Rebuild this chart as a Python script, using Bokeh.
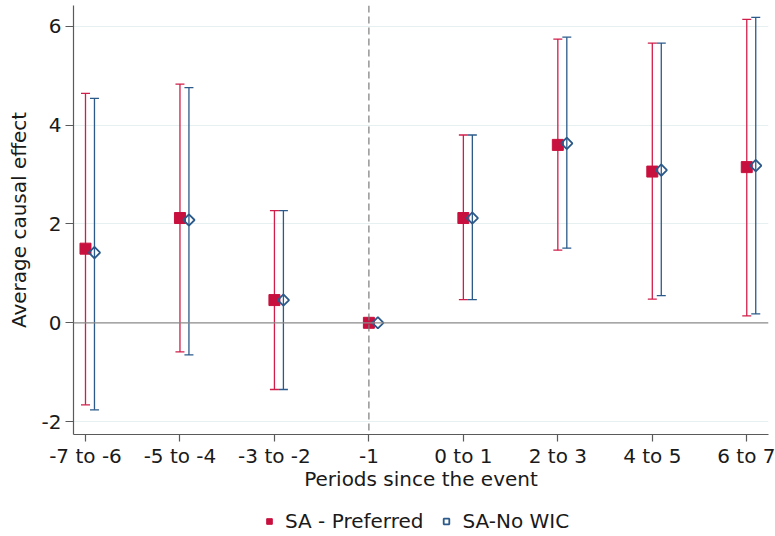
import numpy as np
from bokeh.plotting import figure
from bokeh.layouts import column
from bokeh.models import (ColumnDataSource, Range1d, FixedTicker, Span, Whisker,
                          TeeHead, Legend, LegendItem)
from bokeh.embed import file_html
from bokeh.resources import INLINE

# ---------------- data ----------------
categories = ["-7 to -6", "-5 to -4", "-3 to -2", "-1", "0 to 1", "2 to 3", "4 to 5", "6 to 7"]

pref_est = [1.50, 2.12, 0.46, 0.00, 2.12, 3.60, 3.06, 3.15]
pref_lo = [-1.66, -0.59, -1.35, 0.00, 0.47, 1.47, 0.48, 0.14]
pref_hi = [4.64, 4.83, 2.27, 0.00, 3.80, 5.74, 5.66, 6.14]

nowic_est = [1.42, 2.08, 0.46, 0.00, 2.12, 3.63, 3.09, 3.18]
nowic_lo = [-1.76, -0.65, -1.35, 0.00, 0.47, 1.51, 0.55, 0.18]
nowic_hi = [4.54, 4.76, 2.27, 0.00, 3.80, 5.78, 5.66, 6.18]

y_ticks = [-2, 0, 2, 4, 6]
y_tick_labels = ["-2", "0", "2", "4", "6"]
ref_period = "-1"
series_names = ["SA - Preferred", "SA-No WIC"]

# ---------------- styling ----------------
RED = "#C8103E"
RED_LINE = "#D01E4A"
BLUE = "#2B5A8A"
TEXT = "#1a1a1a"
FONT = "DejaVu Sans"
DODGE = 0.095

idx = np.arange(len(categories), dtype=float)
ref_i = categories.index(ref_period)
ci_mask = idx != ref_i

src_pref = ColumnDataSource(dict(x=idx, y=pref_est))
src_nowic = ColumnDataSource(dict(x=idx + DODGE, y=nowic_est))
ci_pref = ColumnDataSource(dict(x=idx[ci_mask],
                                lo=np.array(pref_lo)[ci_mask],
                                hi=np.array(pref_hi)[ci_mask]))
ci_nowic = ColumnDataSource(dict(x=idx[ci_mask] + DODGE,
                                 lo=np.array(nowic_lo)[ci_mask],
                                 hi=np.array(nowic_hi)[ci_mask]))

p = figure(width=775, height=493, output_backend="svg", toolbar_location=None,
           x_range=Range1d(-0.127, 7.23), y_range=Range1d(-2.26, 6.42),
           min_border_left=73, min_border_right=7, min_border_top=5,
           min_border_bottom=56)
p.outline_line_color = None
p.background_fill_color = "white"
p.border_fill_color = "white"

# grid
p.xgrid.visible = False
p.ygrid.ticker = FixedTicker(ticks=[t for t in y_ticks if t != 0])
p.ygrid.grid_line_color = "#E6F0F1"
p.ygrid.grid_line_width = 1

# reference lines
p.add_layout(Span(location=0, dimension="width", line_color="#8a8a8a", line_width=1.2))
p.add_layout(Span(location=ref_i, dimension="height", line_color="#7a7a7a",
                  line_width=1.2, line_dash="7 4"))

# confidence intervals
for src, col in ((ci_pref, RED_LINE), (ci_nowic, BLUE)):
    w = Whisker(source=src, base="x", lower="lo", upper="hi", dimension="height",
                line_color=col, line_width=1.3,
                upper_head=TeeHead(size=9, line_color=col, line_width=1.3),
                lower_head=TeeHead(size=9, line_color=col, line_width=1.3))
    p.add_layout(w)

pref_style = dict(marker="square", size=11, fill_color=RED, line_color=RED)
nowic_style = dict(marker="square", size=8, angle=np.pi / 4, fill_color="white",
                   fill_alpha=0.0, line_color=BLUE, line_width=1.8)

p.scatter("x", "y", source=src_pref, **pref_style)
p.scatter("x", "y", source=src_nowic, **nowic_style)

# axes
for ax in (p.xaxis, p.yaxis):
    ax.axis_line_color = "#5a5a5a"
    ax.axis_line_width = 1.2
    ax.major_tick_line_color = "#5a5a5a"
    ax.major_tick_line_width = 1.2
    ax.major_tick_in = 0
    ax.minor_tick_line_color = None
    ax.major_label_text_font = FONT
    ax.major_label_text_font_size = "20px"
    ax.major_label_text_color = TEXT
    ax.axis_label_text_font = FONT
    ax.axis_label_text_font_size = "20px"
    ax.axis_label_text_font_style = "normal"
    ax.axis_label_text_color = TEXT

p.xaxis.ticker = FixedTicker(ticks=list(range(len(categories))))
p.xaxis.major_label_overrides = {i: c for i, c in enumerate(categories)}
p.xaxis.major_tick_out = 7
p.xaxis.major_label_standoff = 2
p.xaxis.axis_label = "Periods since the event"
p.xaxis.axis_label_standoff = -4

p.yaxis.ticker = FixedTicker(ticks=y_ticks)
p.yaxis.major_label_overrides = {t: s for t, s in zip(y_ticks, y_tick_labels)}
p.yaxis.major_tick_out = 8
p.yaxis.major_label_standoff = 4
p.yaxis.major_label_orientation = "horizontal"
p.yaxis.axis_label = "Average causal effect"
p.yaxis.axis_label_standoff = 8

# ---------------- legend strip ----------------
leg = figure(width=775, height=43, output_backend="svg", toolbar_location=None,
             x_range=Range1d(0, 1), y_range=Range1d(0, 1),
             x_axis_type=None, y_axis_type=None,
             min_border_left=0, min_border_right=0, min_border_top=0, min_border_bottom=0)
leg.outline_line_color = None
leg.background_fill_color = "white"
leg.border_fill_color = "white"
# off-screen proxy points so that the legend draws its swatches
lr_pref = leg.scatter(x=[-10], y=[-10], **pref_style)
lr_nowic = leg.scatter(x=[-10], y=[-10], **nowic_style)

legend = Legend(items=[LegendItem(label=series_names[0], renderers=[lr_pref]),
                       LegendItem(label=series_names[1], renderers=[lr_nowic])],
                orientation="horizontal", location=(189, 3),
                label_text_font=FONT, label_text_font_size="20px",
                label_text_color=TEXT, glyph_width=14, glyph_height=14,
                label_standoff=9, spacing=16, padding=0, margin=0,
                border_line_color=None, background_fill_alpha=0)
leg.add_layout(legend, "center")

layout = column(p, leg, spacing=0)
open("out.html", "w").write(file_html(layout, INLINE))
